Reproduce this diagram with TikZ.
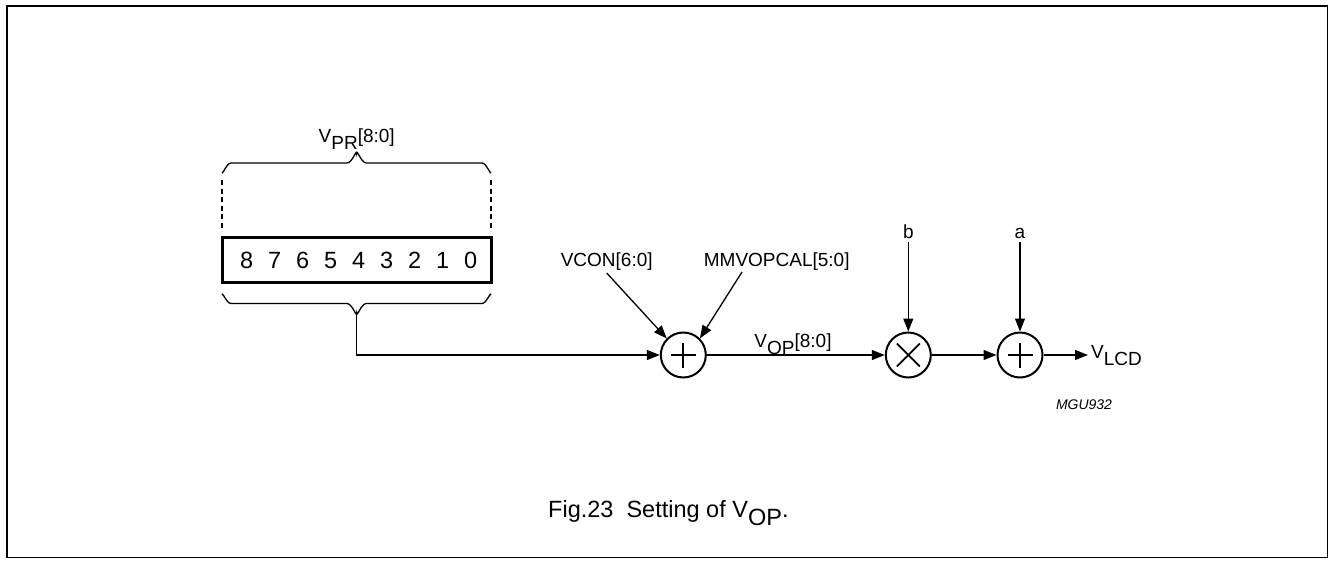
\documentclass[tikz,border=0pt]{standalone}
\usepackage{fontspec}
\setmainfont{Liberation Sans}
\usetikzlibrary{arrows.meta}
\newcommand{\lowsub}[1]{\raisebox{-0.38em}{#1}}
\begin{document}
\begin{tikzpicture}[x=1pt,y=-1pt,
  lbl/.style={font=\fontsize{19}{21}\selectfont, inner sep=0pt},
  thin line/.style={line width=1.3pt},
  arr/.style={thin line, -{Triangle[length=13pt,width=10pt]}},
  opcircle/.style={circle, draw, line width=2pt, minimum size=45pt, inner sep=0pt},
  sym/.style={line width=1.8pt},
  digit/.style={font=\fontsize{23.5}{25}\selectfont, inner sep=0pt, anchor=base}
]
\useasboundingbox (0,0) rectangle (1331,560);
% frame
\draw[line width=1.8pt] (7,6) rectangle (1327.5,557.5);

% register box
\node[draw, line width=2.8pt, minimum width=269pt, minimum height=45pt, inner sep=0pt] (reg) at (356.7,260) {};
\foreach \d [count=\i from 0] in {8,7,6,5,4,3,2,1,0}
  \node[digit] (d\i) at (246.7+28*\i,268.5) {\d};

% V_PR label
\node[lbl, anchor=base] (vpr) at (356.7,142) {V\lowsub{PR}[8:0]};

% upper brace
\draw[thin line] (222,172) to[out=-90,in=180] (231,163) -- (347,163) to[out=0,in=90] (356.7,153.5)
  to[out=90,in=180] (366.4,163) -- (482,163) to[out=0,in=-90] (491,172);
% dashed lines
\draw[thin line, dash pattern=on 5pt off 3.5pt] (222,180) -- (222,231);
\draw[thin line, dash pattern=on 5pt off 3.5pt] (491,180) -- (491,231);
% lower brace
\draw[thin line] (222,295) to[out=90,in=180] (231,303.5) -- (347,303.5) to[out=0,in=-90] (356.7,313)
  to[out=-90,in=180] (366.4,303.5) -- (482,303.5) to[out=0,in=90] (491,295);
\coordinate (tipL) at (356.7,313);

% operators
\node[opcircle] (add1) at (683.3,355) {};
\node[opcircle] (mul) at (908.3,355) {};
\node[opcircle] (add2) at (1020,355) {};
\draw[sym] ([xshift=-12.5pt]add1.center) -- ([xshift=12.5pt]add1.center);
\draw[sym] ([yshift=-12.5pt]add1.center) -- ([yshift=12.5pt]add1.center);
\draw[sym] ([xshift=-12.5pt]add2.center) -- ([xshift=12.5pt]add2.center);
\draw[sym] ([yshift=-12.5pt]add2.center) -- ([yshift=12.5pt]add2.center);
\draw[sym] ([shift={(-11.5,-11.5)}]mul.center) -- ([shift={(11.5,11.5)}]mul.center);
\draw[sym] ([shift={(-11.5,11.5)}]mul.center) -- ([shift={(11.5,-11.5)}]mul.center);

% labels
\node[lbl, anchor=base] (vcon) at (606.7,266) {VCON[6:0]};
\node[lbl, anchor=base] (mmv) at (776.7,266) {MMVOPCAL[5:0]};
\node[lbl, anchor=base] (vop) at (793,347) {V\lowsub{OP}[8:0]};
\node[lbl, anchor=base] (lb) at (908.3,238) {b};
\node[lbl, anchor=base] (la) at (1020,238) {a};
\node[lbl, anchor=base west] (vlcd) at (1091,358) {V\lowsub{LCD}};
\node[font=\fontsize{14}{16}\selectfont\itshape, inner sep=0pt] (mgu) at (1084,405) {MGU932};
\node[font=\fontsize{23.5}{25}\selectfont, inner sep=0pt, anchor=base west] (cap) at (548,517) {Fig.23\ \ Setting of V\lowsub{OP}.};

\coordinate (vconS) at (606.7,273);
\coordinate (mmvS) at (742,272);
\coordinate (bS) at (908.3,242);
\coordinate (aS) at (1020,242);
\coordinate (outE) at (1088,355);

% connectors
\draw[arr] (tipL) |- (add1.west);
\draw[arr] (vconS) -- (add1.north west);
\draw[arr] (mmvS) -- (add1.north east);
\draw[arr] (add1.east) -- (mul.west);
\draw[arr] (bS) -- (mul.north);
\draw[arr] (mul.east) -- (add2.west);
\draw[arr] (aS) -- (add2.north);
\draw[arr] (add2.east) -- (outE);
\end{tikzpicture}
\end{document}
